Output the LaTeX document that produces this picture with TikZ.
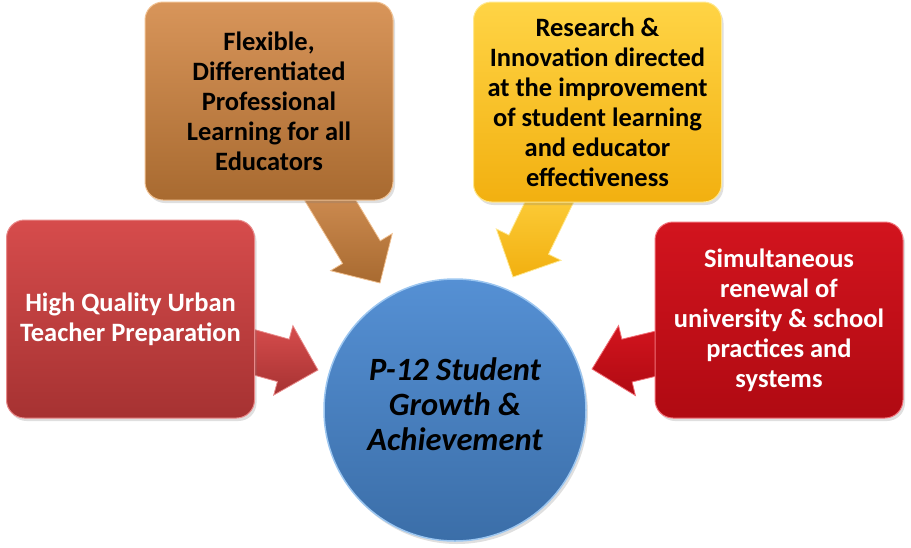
\documentclass[tikz,border=0pt]{standalone}
\usepackage{fontspec}
\setmainfont{Carlito}
\usetikzlibrary{calc,shadows}
\definecolor{lredT}{HTML}{D64C4C}
\definecolor{lredB}{HTML}{A63232}
\definecolor{lredE}{HTML}{E88A8A}
\definecolor{brnT}{HTML}{D8955A}
\definecolor{brnB}{HTML}{A86A30}
\definecolor{brnE}{HTML}{F0C090}
\definecolor{ylwT}{HTML}{FFD445}
\definecolor{ylwB}{HTML}{F2B010}
\definecolor{ylwE}{HTML}{FFE890}
\definecolor{rredT}{HTML}{D2141E}
\definecolor{rredB}{HTML}{B00A12}
\definecolor{rredE}{HTML}{F07078}
\definecolor{cirT}{HTML}{5590D4}
\definecolor{cirB}{HTML}{3B6EA8}
\definecolor{cirE}{HTML}{9CC6F0}
\newcommand\myblockarrow[3]{% start, tip, colour prefix
  \coordinate (H) at ($(#2)!36pt!(#1)$);
  \path[top color=#3T, bottom color=#3B, draw=#3E, line width=0.8pt, line join=miter]
    ($(#1)!22pt!90:(#2)$) -- ($(H)!22pt!90:(#2)$) -- ($(H)!36pt!90:(#2)$) -- (#2)
    -- ($(H)!36pt!-90:(#2)$) -- ($(H)!22pt!-90:(#2)$) -- ($(#1)!22pt!-90:(#2)$) -- cycle;}
\tikzset{
  boxstyle/.style={rounded corners=18pt, minimum width=248pt, minimum height=198pt,
    align=center, inner sep=0pt, line width=1pt,
    drop shadow={opacity=0.25, shadow xshift=2pt, shadow yshift=-3pt},
    font=\fontsize{26.5}{30}\selectfont\bfseries},
}
\begin{document}
\begin{tikzpicture}[x=1pt,y=-1pt]
\useasboundingbox (0,0) rectangle (911,547);
% arrow start and tip coordinates
\coordinate (s1) at (235,347);
\coordinate (t1) at (318,370);
\coordinate (s2) at (318,180);
\coordinate (t2) at (380,283);
\coordinate (s3) at (560,180);
\coordinate (t3) at (513,277);
\coordinate (s4) at (675,349);
\coordinate (t4) at (592,369);
\myblockarrow{s1}{t1}{lred}
\myblockarrow{s2}{t2}{brn}
\myblockarrow{s3}{t3}{ylw}
\myblockarrow{s4}{t4}{rred}
% boxes
\node[boxstyle, top color=lredT, bottom color=lredB, draw=lredE, text=white]
  (b1) at (130.5,319) {High Quality Urban\\Teacher Preparation};
\node[boxstyle, top color=brnT, bottom color=brnB, draw=brnE, text=black]
  (b2) at (269,101) {Flexible,\\Differentiated\\Professional\\Learning for all\\Educators};
\node[boxstyle, top color=ylwT, bottom color=ylwB, draw=ylwE, text=black, minimum height=200pt]
  (b3) at (597.5,102) {Research \&\\Innovation directed\\at the improvement\\of student learning\\and educator\\effectiveness};
\node[boxstyle, top color=rredT, bottom color=rredB, draw=rredE, text=white, minimum height=196pt]
  (b4) at (779,320) {Simultaneous\\renewal of\\university \& school\\practices and\\systems};
% centre circle
\node[circle, minimum size=262pt, inner sep=0pt, top color=cirT, bottom color=cirB,
  draw=cirE, line width=1.5pt,
  drop shadow={opacity=0.25, shadow xshift=2pt, shadow yshift=-3pt}]
  (c) at (455,410) {};
\node[align=center, inner sep=0pt, font=\fontsize{32.5}{35}\selectfont\bfseries\itshape]
  (ct) at (455,404) {P-12 Student\\Growth \&\\Achievement};
\end{tikzpicture}
\end{document}
